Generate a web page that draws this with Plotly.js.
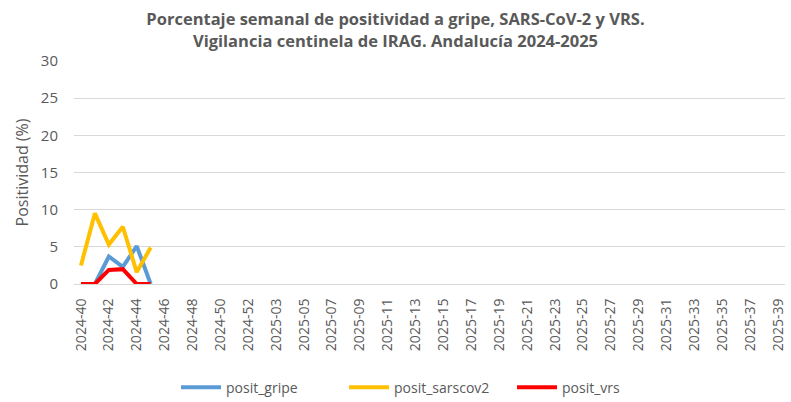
<!DOCTYPE html>
<html><head><meta charset="utf-8">
<script src="https://cdn.plot.ly/plotly-3.0.1.min.js"></script>
<style>body{margin:0;background:#fff}#c{width:791px;height:402px}</style>
</head><body><div id="c"></div>
<script>
const weeks2024 = ["2024-40","2024-41","2024-42","2024-43","2024-44","2024-45","2024-46","2024-47","2024-48","2024-49","2024-50","2024-51","2024-52"];
const weeks2025 = ["2025-02","2025-03","2025-04","2025-05","2025-06","2025-07","2025-08","2025-09","2025-10","2025-11","2025-12","2025-13","2025-14","2025-15","2025-16","2025-17","2025-18","2025-19","2025-20","2025-21","2025-22","2025-23","2025-24","2025-25","2025-26","2025-27","2025-28","2025-29","2025-30","2025-31","2025-32","2025-33","2025-34","2025-35","2025-36","2025-37","2025-38","2025-39"];
const categories = weeks2024.concat(weeks2025);
const gripe = [0, 0, 3.7, 2.3, 5.1, 0];
const sarscov2 = [2.5, 9.5, 5.3, 7.7, 1.6, 4.9];
const vrs = [0, 0, 1.9, 2.0, 0, 0];
const tickLabels = categories.filter((c, i) => i % 2 === 0);
const yTicks = [0, 5, 10, 15, 20, 25, 30];

const font = "Open Sans, Noto Sans, sans-serif";
const grey = "#595959";
const traces = [
  {name: "posit_gripe", x: categories.slice(0, gripe.length), y: gripe, mode: "lines", line: {color: "#5b9bd5", width: 4}},
  {name: "posit_sarscov2", x: categories.slice(0, sarscov2.length), y: sarscov2, mode: "lines", line: {color: "#ffc000", width: 4}},
  {name: "posit_vrs", x: categories.slice(0, vrs.length), y: vrs, mode: "lines", line: {color: "#ff0000", width: 4}}
];
const layout = {
  width: 791, height: 402,
  margin: {l: 74, r: 6, t: 61, b: 118, autoexpand: false},
  paper_bgcolor: "#fff", plot_bgcolor: "#fff",
  title: {text: "<b>Porcentaje semanal de positividad a gripe, SARS-CoV-2 y VRS.<br>Vigilancia centinela de IRAG. Andalucía 2024-2025</b>",
    font: {family: font, size: 16.5, color: grey}, x: 0.5, xanchor: "center", yref: "container", y: 0.937, yanchor: "middle"},
  xaxis: {type: "category", categoryorder: "array", categoryarray: categories,
    range: [-0.5, categories.length - 0.5], automargin: false,
    tickmode: "array", tickvals: tickLabels, ticktext: tickLabels,
    tickangle: -90, tickfont: {family: font, size: 14, color: grey},
    ticks: "outside", ticklen: 8, tickcolor: "rgba(0,0,0,0)",
    showgrid: false, zeroline: false, showline: true, linecolor: "#d9d9d9", linewidth: 1},
  yaxis: {range: [0, 30], tickvals: yTicks, automargin: false,
    showgrid: true, gridcolor: "#d9d9d9", gridwidth: 1,
    zeroline: false, showline: false, ticks: "outside", ticklen: 12, tickcolor: "rgba(0,0,0,0)",
    tickfont: {family: font, size: 15, color: grey},
    title: {text: "Positividad (%)", font: {family: font, size: 16, color: grey}, standoff: 8}},
  showlegend: true,
  legend: {orientation: "h", x: 0.1435, xanchor: "left", y: -0.465, yanchor: "middle",
    font: {family: font, size: 14, color: grey}, itemwidth: 40, entrywidth: 113, entrywidthmode: "pixels"}
};
Plotly.newPlot("c", traces, layout, {displayModeBar: false, staticPlot: true});
</script></body></html>
